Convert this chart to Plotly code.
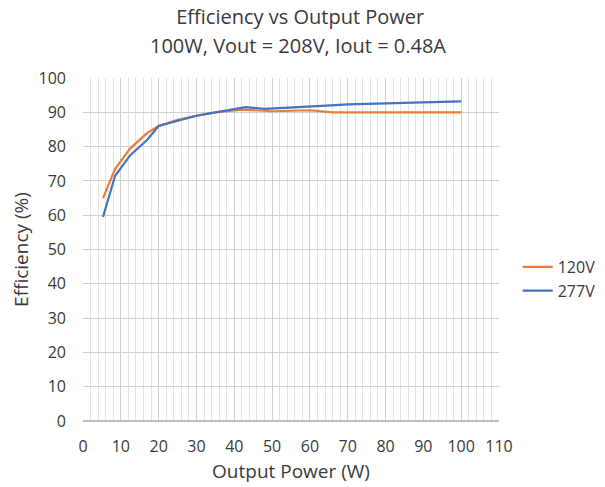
import plotly.graph_objects as go

# data
x_120 = [5.3, 8.5, 12.5, 17, 20, 25, 30, 35, 42, 50, 60, 66, 75, 85, 100]
y_120 = [65, 73.5, 79.5, 84, 86, 87.8, 89, 90, 90.8, 90.3, 90.6, 90, 90, 90, 90]
x_277 = [5.3, 8.5, 12.5, 17, 20, 25, 30, 35, 43, 48, 55, 62, 70, 80, 90, 100]
y_277 = [59.5, 71.5, 77.5, 82, 86, 87.5, 89, 90, 91.5, 91, 91.5, 91.8, 92.3, 92.7, 92.9, 93.2]

fnt = "Open Sans, Liberation Sans, sans-serif"
txt = "#3a3a3a"

fig = go.Figure()
fig.add_trace(go.Scatter(x=x_120, y=y_120, mode="lines", name="120V",
                         line=dict(color="#ED7D31", width=2.2)))
fig.add_trace(go.Scatter(x=x_277, y=y_277, mode="lines", name="277V",
                         line=dict(color="#4472C4", width=2.2)))

fig.update_layout(
    width=605, height=487,
    margin=dict(l=75, r=111, t=70, b=74),
    paper_bgcolor="white", plot_bgcolor="white",
    font=dict(family=fnt, size=16, color=txt),
    title=dict(text="Efficiency vs Output Power",
               x=0.483, xanchor="center", y=0.9815, yanchor="middle",
               font=dict(size=20, color=txt)),
    legend=dict(x=1.045, y=0.414, xanchor="left", yanchor="middle",
                font=dict(size=16)),
    showlegend=True,
)
# second title line, a bit further down like the reference
fig.add_annotation(text="100W, Vout = 208V, Iout = 0.48A", xref="paper", yref="paper",
                   x=0.518, y=1.096, xanchor="center", yanchor="middle",
                   showarrow=False, font=dict(size=20, color=txt))
fig.update_xaxes(range=[0, 110], dtick=10, tick0=0, automargin=False,
                 showgrid=True, gridcolor="#d0d0d0", gridwidth=1,
                 minor=dict(dtick=2, showgrid=True, gridcolor="#e3e3e3"),
                 zeroline=False, showline=False,
                 title=dict(text="Output Power (W)", font=dict(size=19), standoff=8),
                 ticks="", ticklabelstandoff=14)
fig.update_yaxes(range=[0, 100], dtick=10, tick0=0, automargin=False,
                 showgrid=True, gridcolor="#d0d0d0", gridwidth=1,
                 zeroline=True, zerolinecolor="#bfbfbf", zerolinewidth=1.5,
                 showline=False,
                 title=dict(text="Efficiency (%)", font=dict(size=19), standoff=14),
                 ticks="", ticklabelstandoff=16)

fig.write_html("out.html")
